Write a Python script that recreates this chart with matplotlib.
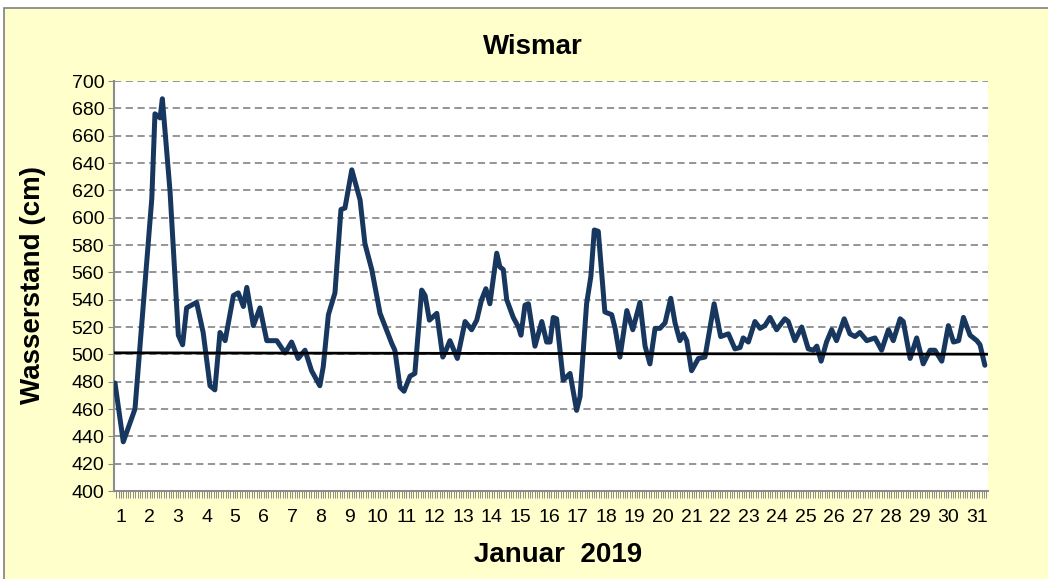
import matplotlib
matplotlib.use("Agg")
import matplotlib.pyplot as plt
from matplotlib.patches import Rectangle
from matplotlib.ticker import MultipleLocator

# time in days of January 2019, water level in cm
days = [
    0.79, 1.08, 1.49, 2.08, 2.19, 2.37, 2.45, 2.72, 3.01, 3.16, 3.30, 3.65,
    3.88, 4.12, 4.29, 4.47, 4.65, 4.94, 5.11, 5.29, 5.41, 5.64, 5.87, 6.11,
    6.46, 6.75, 6.98, 7.21, 7.45, 7.68, 7.97, 8.09, 8.27, 8.50, 8.71, 8.85,
    9.09, 9.38, 9.55, 9.79, 10.08, 10.49, 10.60, 10.78, 10.92, 11.13, 11.30, 11.54,
    11.66, 11.81, 12.07, 12.28, 12.39, 12.53, 12.79, 13.06, 13.29, 13.47, 13.64, 13.79,
    13.93, 14.17, 14.28, 14.40, 14.52, 14.75, 14.93, 15.02, 15.16, 15.28, 15.51, 15.75,
    15.92, 16.04, 16.15, 16.27, 16.50, 16.74, 16.97, 17.09, 17.32, 17.47, 17.59, 17.73,
    17.96, 18.20, 18.32, 18.49, 18.73, 18.94, 19.19, 19.37, 19.54, 19.72, 19.89, 20.07,
    20.27, 20.42, 20.59, 20.71, 20.83, 21.00, 21.24, 21.47, 21.65, 21.79, 22.02, 22.29,
    22.52, 22.70, 22.81, 22.99, 23.22, 23.40, 23.57, 23.75, 23.98, 24.27, 24.39, 24.62,
    24.86, 25.09, 25.27, 25.39, 25.54, 25.73, 25.91, 26.08, 26.35, 26.55, 26.73, 26.90,
    27.14, 27.43, 27.66, 27.90, 28.07, 28.31, 28.42, 28.66, 28.89, 29.12, 29.36, 29.53,
    29.77, 30.00, 30.18, 30.36, 30.53, 30.76, 31.00, 31.11, 31.28,
]
level = [
    479, 436, 460, 614, 676, 673, 687, 619, 514, 507, 534, 538,
    516, 477, 474, 516, 510, 543, 545, 535, 549, 521, 534, 510,
    510, 501, 509, 497, 503, 488, 477, 491, 529, 545, 606, 607,
    635, 613, 581, 562, 530, 508, 503, 476, 473, 484, 486, 547,
    543, 525, 530, 498, 503, 510, 497, 524, 518, 525, 540, 548,
    537, 574, 564, 562, 540, 527, 520, 514, 536, 537, 506, 524,
    509, 509, 527, 526, 481, 486, 459, 469, 537, 557, 591, 590,
    531, 529, 519, 498, 532, 518, 538, 506, 493, 519, 519, 523,
    541, 523, 510, 515, 510, 488, 497, 498, 520, 537, 513, 515,
    504, 505, 512, 509, 524, 519, 521, 527, 518, 526, 524, 510,
    520, 504, 503, 506, 495, 509, 518, 510, 526, 515, 513, 516,
    510, 512, 503, 518, 510, 526, 524, 497, 512, 493, 503, 503,
    495, 521, 509, 510, 527, 514, 510, 507, 492,
]

# mean line (slightly sloped)
mean_days = [0.78, 31.35]
mean_level = [501.1, 500.1]

day_ticks = list(range(1, 32))
y_ticks = list(range(400, 701, 20))

plt.rcParams["font.family"] = ["Liberation Sans", "DejaVu Sans"]

YELLOW = "#FFFFCC"
GRID = "#8C8C8C"
LINE = "#17375E"

fig = plt.figure(figsize=(10.48, 5.79), dpi=100, facecolor="white")
fig.patches.append(Rectangle((4 / 1048, -0.02), 1.1, 1 - 8 / 579 + 0.02,
                             transform=fig.transFigure, facecolor=YELLOW,
                             edgecolor="#808080", linewidth=1.2, zorder=-5))

ax = fig.add_axes([114 / 1048, 1 - 491 / 579, 874 / 1048, 410 / 579])
ax.set_facecolor("white")

ax.plot(days, level, color=LINE, linewidth=3.6, solid_joinstyle="round",
        solid_capstyle="round", zorder=3)
ax.plot(mean_days, mean_level, color="black", linewidth=2.0, zorder=4)

ax.set_xlim(0.755, 31.39)
ax.set_ylim(400, 700)
ax.set_yticks(y_ticks)
ax.set_xticks(day_ticks)
ax.xaxis.set_minor_locator(MultipleLocator(1 / 12))
ax.grid(axis="y", color=GRID, linestyle=(0, (4, 2.5)), linewidth=1.3)
ax.set_axisbelow(True)

for side in ["top", "right"]:
    ax.spines[side].set_visible(False)
for side in ["left", "bottom"]:
    ax.spines[side].set_color(GRID)
    ax.spines[side].set_linewidth(1.5)

ax.tick_params(axis="y", which="major", length=4, color=GRID, labelsize=14, pad=3)
ax.tick_params(axis="x", which="major", length=5, color=GRID, labelsize=14, pad=8)
ax.tick_params(axis="x", which="minor", length=5, color=GRID, width=0.7)

fig.text(533 / 1048, 1 - 46.5 / 579, "Wismar", ha="center", va="center",
         fontsize=20, fontweight="bold")
fig.text(558 / 1048, 1 - 555 / 579, "Januar  2019", ha="center", va="center",
         fontsize=20, fontweight="bold")
fig.text(33 / 1048, 1 - 285 / 579, "Wasserstand (cm)", ha="center", va="center",
         rotation=90, fontsize=20, fontweight="bold")

fig.savefig("out.png", dpi=100, facecolor=fig.get_facecolor())
